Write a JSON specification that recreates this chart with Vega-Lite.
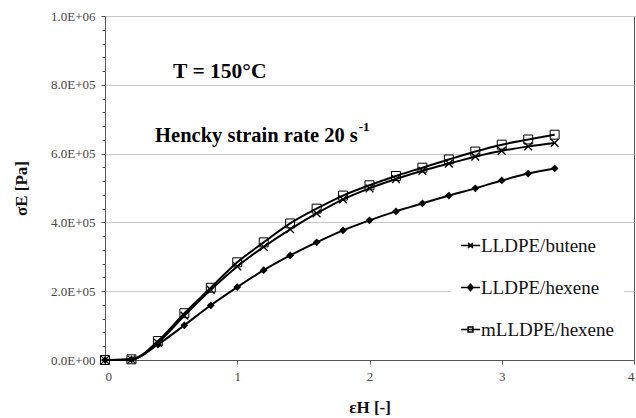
{
  "$schema": "https://vega.github.io/schema/vega-lite/v6.json",
  "width": 529,
  "height": 344,
  "autosize": {"type": "none"},
  "padding": {"left": 105, "top": 16, "right": 2, "bottom": 58},
  "background": "white",
  "config": {
    "view": {"stroke": "#555", "strokeWidth": 1},
    "font": "Liberation Serif",
    "axis": {
      "labelFont": "Liberation Serif",
      "labelFontSize": 13,
      "labelColor": "#444",
      "titleFont": "Liberation Serif",
      "titleFontWeight": "bold",
      "titleFontSize": 17,
      "titleColor": "#111",
      "domainColor": "#555",
      "tickColor": "#555",
      "tickSize": 4
    },
    "legend": {
      "orient": "none",
      "legendX": 346,
      "legendY": 210,
      "padding": 10,
      "fillColor": "white",
      "labelFont": "Liberation Serif",
      "labelFontSize": 19,
      "labelColor": "#111",
      "labelOffset": 1,
      "rowPadding": 22,
      "symbolSize": 64,
      "symbolOpacity": 1,
      "symbolStrokeColor": "black",
      "symbolStrokeWidth": 1.5,
      "labelLimit": 300
    }
  },
  "data": {
    "values": [
      {"series": "LLDPE/butene", "x": 0.0, "y": 0},
      {"series": "LLDPE/butene", "x": 0.2, "y": 1500},
      {"series": "LLDPE/butene", "x": 0.4, "y": 50000},
      {"series": "LLDPE/butene", "x": 0.6, "y": 129000},
      {"series": "LLDPE/butene", "x": 0.8, "y": 204000},
      {"series": "LLDPE/butene", "x": 1.0, "y": 272000},
      {"series": "LLDPE/butene", "x": 1.2, "y": 329000},
      {"series": "LLDPE/butene", "x": 1.4, "y": 380000},
      {"series": "LLDPE/butene", "x": 1.6, "y": 426000},
      {"series": "LLDPE/butene", "x": 1.8, "y": 467000},
      {"series": "LLDPE/butene", "x": 2.0, "y": 499000},
      {"series": "LLDPE/butene", "x": 2.2, "y": 526000},
      {"series": "LLDPE/butene", "x": 2.4, "y": 550000},
      {"series": "LLDPE/butene", "x": 2.6, "y": 571000},
      {"series": "LLDPE/butene", "x": 2.8, "y": 591000},
      {"series": "LLDPE/butene", "x": 3.0, "y": 608000},
      {"series": "LLDPE/butene", "x": 3.2, "y": 621000},
      {"series": "LLDPE/butene", "x": 3.4, "y": 631000},
      {"series": "LLDPE/hexene", "x": 0.0, "y": 0},
      {"series": "LLDPE/hexene", "x": 0.2, "y": 1500},
      {"series": "LLDPE/hexene", "x": 0.4, "y": 45000},
      {"series": "LLDPE/hexene", "x": 0.6, "y": 101000},
      {"series": "LLDPE/hexene", "x": 0.8, "y": 159000},
      {"series": "LLDPE/hexene", "x": 1.0, "y": 212000},
      {"series": "LLDPE/hexene", "x": 1.2, "y": 261000},
      {"series": "LLDPE/hexene", "x": 1.4, "y": 304000},
      {"series": "LLDPE/hexene", "x": 1.6, "y": 342000},
      {"series": "LLDPE/hexene", "x": 1.8, "y": 377000},
      {"series": "LLDPE/hexene", "x": 2.0, "y": 406000},
      {"series": "LLDPE/hexene", "x": 2.2, "y": 432000},
      {"series": "LLDPE/hexene", "x": 2.4, "y": 455000},
      {"series": "LLDPE/hexene", "x": 2.6, "y": 478000},
      {"series": "LLDPE/hexene", "x": 2.8, "y": 499000},
      {"series": "LLDPE/hexene", "x": 3.0, "y": 522000},
      {"series": "LLDPE/hexene", "x": 3.2, "y": 542000},
      {"series": "LLDPE/hexene", "x": 3.4, "y": 557000},
      {"series": "mLLDPE/hexene", "x": 0.0, "y": 0},
      {"series": "mLLDPE/hexene", "x": 0.2, "y": 2000},
      {"series": "mLLDPE/hexene", "x": 0.4, "y": 55000},
      {"series": "mLLDPE/hexene", "x": 0.6, "y": 136000},
      {"series": "mLLDPE/hexene", "x": 0.8, "y": 210000},
      {"series": "mLLDPE/hexene", "x": 1.0, "y": 284000},
      {"series": "mLLDPE/hexene", "x": 1.2, "y": 342000},
      {"series": "mLLDPE/hexene", "x": 1.4, "y": 397000},
      {"series": "mLLDPE/hexene", "x": 1.6, "y": 440000},
      {"series": "mLLDPE/hexene", "x": 1.8, "y": 478000},
      {"series": "mLLDPE/hexene", "x": 2.0, "y": 508000},
      {"series": "mLLDPE/hexene", "x": 2.2, "y": 535000},
      {"series": "mLLDPE/hexene", "x": 2.4, "y": 559000},
      {"series": "mLLDPE/hexene", "x": 2.6, "y": 583000},
      {"series": "mLLDPE/hexene", "x": 2.8, "y": 606000},
      {"series": "mLLDPE/hexene", "x": 3.0, "y": 626000},
      {"series": "mLLDPE/hexene", "x": 3.2, "y": 641000},
      {"series": "mLLDPE/hexene", "x": 3.4, "y": 655000}
    ]
  },
  "resolve": {"axis": {"y": "independent"}},
  "layer": [
    {
      "mark": {"type": "line", "color": "black", "strokeWidth": 2, "interpolate": "monotone"},
      "encoding": {
        "x": {
          "field": "x", "type": "quantitative",
          "scale": {"domain": [0, 4], "nice": false},
          "axis": {"values": [0, 1, 2, 3, 4], "format": "d", "grid": false, "title": "εH [-]", "labelPadding": 6, "titlePadding": 16}
        },
        "y": {
          "field": "y", "type": "quantitative",
          "scale": {"domain": [0, 1000000], "nice": false},
          "axis": {
            "orient": "left",
            "values": [0, 200000, 400000, 600000, 800000, 1000000],
            "grid": true, "gridColor": "#c8c8c8",
            "labelExpr": "datum.value >= 1000000 ? '1.0E+06' : (datum.value == 0 ? '0.0E+00' : format(datum.value / 100000, '.1f') + 'E+05')",
            "title": "σE [Pa]", "titlePadding": 20, "labelPadding": 6
          }
        },
        "detail": {"field": "series"}
      }
    },
    {
      "transform": [{"filter": "datum.series == 'LLDPE/butene'"}],
      "mark": {"type": "point", "shape": "M-1,-1L1,1M-1,1L1,-1", "filled": false, "stroke": "black", "strokeWidth": 1.3, "size": 60, "opacity": 1},
      "encoding": {"x": {"field": "x", "type": "quantitative"}, "y": {"field": "y", "type": "quantitative", "axis": null}}
    },
    {
      "transform": [{"filter": "datum.series == 'LLDPE/hexene'"}],
      "mark": {"type": "point", "shape": "diamond", "filled": true, "color": "black", "size": 60, "opacity": 1},
      "encoding": {"x": {"field": "x", "type": "quantitative"}, "y": {"field": "y", "type": "quantitative", "axis": null}}
    },
    {
      "transform": [{"filter": "datum.series == 'mLLDPE/hexene'"}],
      "mark": {"type": "point", "shape": "square", "filled": false, "stroke": "black", "strokeWidth": 1, "size": 80, "opacity": 1},
      "encoding": {"x": {"field": "x", "type": "quantitative"}, "y": {"field": "y", "type": "quantitative", "axis": null}}
    },
    {
      "mark": {"type": "point", "filled": true, "opacity": 0},
      "encoding": {
        "x": {"field": "x", "type": "quantitative"},
        "y": {
          "field": "y", "type": "quantitative",
          "axis": {
            "orient": "left",
            "values": [40000, 80000, 120000, 160000, 240000, 280000, 320000, 360000, 440000, 480000, 520000, 560000, 640000, 680000, 720000, 760000, 840000, 880000, 920000, 960000],
            "labels": false, "domain": false, "grid": false, "title": null, "tickSize": 3, "ticks": true
          }
        },
        "shape": {
          "field": "series", "type": "nominal",
          "scale": {
            "domain": ["LLDPE/butene", "LLDPE/hexene", "mLLDPE/hexene"],
            "range": [
              "M-2.4,0H2.4M-0.6,-0.6L0.6,0.6M-0.6,0.6L0.6,-0.6",
              "M-2.4,0H2.4M0,-0.8L0.7,0L0,0.8L-0.7,0Z",
              "M-2.4,0H2.4M-0.6,-0.6H0.6V0.6H-0.6Z"
            ]
          },
          "legend": {"title": null}
        },
        "fill": {
          "field": "series", "type": "nominal",
          "scale": {
            "domain": ["LLDPE/butene", "LLDPE/hexene", "mLLDPE/hexene"],
            "range": ["transparent", "black", "transparent"]
          },
          "legend": {"title": null}
        },
        "stroke": {
          "field": "series", "type": "nominal",
          "scale": {
            "domain": ["LLDPE/butene", "LLDPE/hexene", "mLLDPE/hexene"],
            "range": ["black", "black", "black"]
          },
          "legend": {"title": null}
        }
      }
    },
    {
      "data": {"values": [{"label": "T = 150°C"}]},
      "mark": {"type": "text", "align": "left", "baseline": "middle", "font": "Liberation Serif", "fontWeight": "bold", "fontSize": 21.5, "color": "black"},
      "encoding": {"x": {"datum": 0.515}, "y": {"datum": 838000, "axis": null}, "text": {"field": "label"}}
    },
    {
      "data": {"values": [{"label": "Hencky strain rate 20 s"}]},
      "mark": {"type": "text", "align": "left", "baseline": "middle", "font": "Liberation Serif", "fontWeight": "bold", "fontSize": 20.5, "color": "black"},
      "encoding": {"x": {"datum": 0.379}, "y": {"datum": 652000, "axis": null}, "text": {"field": "label"}}
    },
    {
      "data": {"values": [{"label": "-1"}]},
      "mark": {"type": "text", "align": "left", "baseline": "middle", "font": "Liberation Serif", "fontWeight": "bold", "fontSize": 13, "color": "black"},
      "encoding": {"x": {"datum": 1.918}, "y": {"datum": 676000, "axis": null}, "text": {"field": "label"}}
    }
  ]
}
